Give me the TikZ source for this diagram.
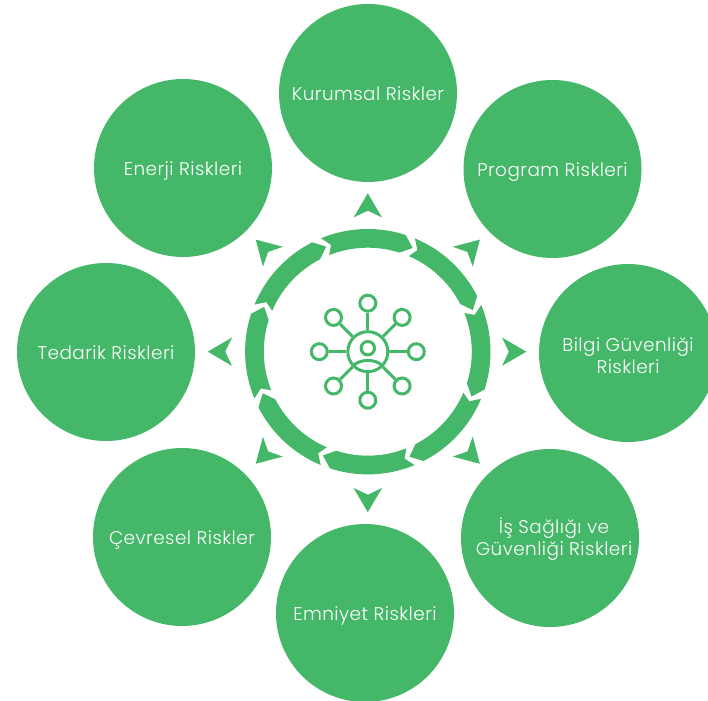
\documentclass[tikz,border=0pt]{standalone}
\usepackage{fontspec}
\setmainfont{Poppins Light}[LetterSpace=2.5]
\definecolor{riskgreen}{HTML}{44B868}
\newcommand\lowr[2]{\raisebox{-#1pt}[\height][\depth]{#2}}
\tikzset{
  riskcircle/.style={circle,fill=riskgreen,draw=none,text=white,minimum size=178pt,inner sep=0pt,align=center,font=\fontsize{18.4}{22}\selectfont},
  sat/.style={circle,draw=riskgreen,line width=3pt,fill=none,minimum size=16pt,inner sep=0pt},
  hub/.style={circle,draw=riskgreen,line width=3pt,fill=none,minimum size=40pt,inner sep=0pt},
  head/.style={circle,draw=riskgreen,line width=3pt,fill=none,minimum size=13.5pt,inner sep=0pt},
  spoke/.style={draw=riskgreen,line width=3pt}
}
\begin{document}
\begin{tikzpicture}[x=1pt,y=1pt]
\useasboundingbox (0,0) rectangle (708,700);
\clip (0,0) rectangle (708,700);
\node[riskcircle] (kurumsal) at (368,607) {\lowr{0.5}{Kurumsal Riskler}};
\node[riskcircle] (program) at (552.5,531) {\lowr{3}{Program Riskleri}};
\node[riskcircle] (bilgi) at (628,347) {\lowr{2.5}{Bilgi Güvenliği}\\\lowr{2.5}{Riskleri}};
\node[riskcircle] (is) at (550,162) {\hspace*{8pt}\lowr{1}{İş Sağlığı ve}\\\hspace*{8pt}\lowr{1}{Güvenliği Riskleri}};
\node[riskcircle] (emniyet) at (365,87) {\lowr{2.5}{Emniyet Riskleri}};
\node[riskcircle] (cevresel) at (182,163) {\lowr{2.5}{Çevresel Riskler}};
\node[riskcircle] (tedarik) at (106,348) {\lowr{0.5}{Tedarik Riskleri}};
\node[riskcircle] (enerji) at (183,532) {\lowr{3}{Enerji Riskleri}};
\begin{scope}[shift={(367.8,348.3)}]
  \foreach \k/\d in {0/0,1/0,2/0,3/0,4/2,5/0,6/1.5,7/0} {
    \begin{scope}[rotate=-45*\k]
      \fill[riskgreen] (112.4:122.7) arc[start angle=112.4,end angle=72,radius=122.7]
        -- (66.6:113) -- (72.3:104) arc[start angle=72.3,end angle=111.8,radius=104]
        -- (109:113) -- cycle;
      \fill[riskgreen] (90:158.5+\d) -- (84:135+\d) -- (90:141+\d) -- (96:135+\d) -- cycle;
    \end{scope}
  }
  \node[hub] (hubc) at (0,0) {};
  \node[head] (headc) at (0,3.5) {};
  \foreach \k/\a in {1/90,2/45,3/0,4/-45,5/-90,6/-135,7/180,8/135} {
    \node[sat] (s\k) at (\a:48.5) {};
  }
  \foreach \k in {1,2,3,4,5,6,7,8} { \draw[spoke] (hubc) -- (s\k); }
  \draw[spoke] (-14.5,-14) .. controls (-8,-7) and (8,-7) .. (14.5,-14);
\end{scope}
\end{tikzpicture}
\end{document}
